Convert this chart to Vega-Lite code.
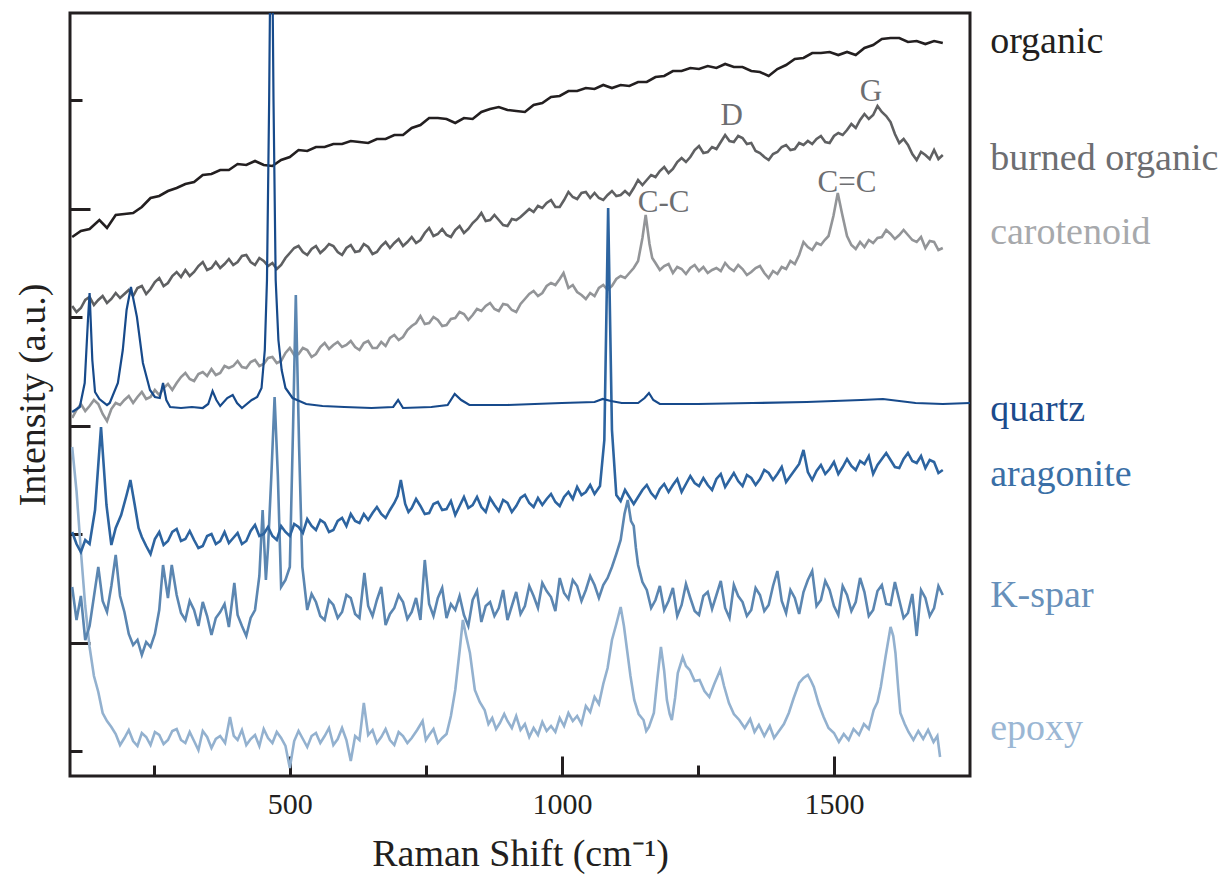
{
"$schema": "https://vega.github.io/schema/vega-lite/v6.json",
"width": 900, "height": 763,
"autosize": {"type": "none"},
"padding": {"left": 70, "top": 13, "right": 257, "bottom": 99},
"background": "white",
"config": {"view": {"stroke": "#231f20", "strokeWidth": 3}, "font": "Liberation Serif"},
"datasets": {
"organic": [{"x":100,"y":539},{"x":116,"y":545},{"x":132,"y":547},{"x":150,"y":556},{"x":164,"y":548},{"x":180,"y":561},{"x":196,"y":562},{"x":212,"y":563},{"x":228,"y":569},{"x":244,"y":578},{"x":260,"y":580},{"x":276,"y":585},{"x":292,"y":588},{"x":308,"y":592},{"x":324,"y":594},{"x":340,"y":601},{"x":356,"y":602},{"x":372,"y":606},{"x":388,"y":606},{"x":404,"y":612},{"x":420,"y":611},{"x":436,"y":615},{"x":452,"y":611},{"x":468,"y":610},{"x":484,"y":616},{"x":500,"y":619},{"x":516,"y":626},{"x":532,"y":625},{"x":548,"y":629},{"x":564,"y":629},{"x":580,"y":632},{"x":596,"y":632},{"x":612,"y":635},{"x":628,"y":634},{"x":644,"y":633},{"x":660,"y":637},{"x":676,"y":637},{"x":692,"y":641},{"x":708,"y":641},{"x":724,"y":648},{"x":740,"y":651},{"x":756,"y":658},{"x":772,"y":658},{"x":788,"y":657},{"x":804,"y":653},{"x":820,"y":658},{"x":836,"y":657},{"x":852,"y":664},{"x":868,"y":667},{"x":884,"y":669},{"x":900,"y":666},{"x":916,"y":665},{"x":932,"y":664},{"x":948,"y":671},{"x":964,"y":673},{"x":980,"y":679},{"x":996,"y":680},{"x":1012,"y":685},{"x":1028,"y":685},{"x":1044,"y":688},{"x":1060,"y":687},{"x":1076,"y":691},{"x":1092,"y":688},{"x":1108,"y":691},{"x":1124,"y":690},{"x":1140,"y":694},{"x":1156,"y":694},{"x":1172,"y":699},{"x":1188,"y":700},{"x":1204,"y":705},{"x":1220,"y":705},{"x":1236,"y":708},{"x":1252,"y":707},{"x":1268,"y":710},{"x":1284,"y":708},{"x":1300,"y":712},{"x":1316,"y":709},{"x":1332,"y":709},{"x":1348,"y":705},{"x":1364,"y":704},{"x":1380,"y":700},{"x":1396,"y":707},{"x":1412,"y":711},{"x":1428,"y":717},{"x":1444,"y":718},{"x":1460,"y":723},{"x":1476,"y":723},{"x":1492,"y":724},{"x":1508,"y":721},{"x":1524,"y":724},{"x":1540,"y":721},{"x":1556,"y":728},{"x":1572,"y":731},{"x":1588,"y":737},{"x":1604,"y":738},{"x":1620,"y":738},{"x":1636,"y":734},{"x":1652,"y":735},{"x":1668,"y":732},{"x":1684,"y":735},{"x":1700,"y":733}],
"burned": [{"x":100,"y":470},{"x":108,"y":464},{"x":116,"y":468},{"x":124,"y":476},{"x":132,"y":479},{"x":140,"y":471},{"x":148,"y":476},{"x":156,"y":480},{"x":164,"y":473},{"x":172,"y":477},{"x":180,"y":483},{"x":188,"y":478},{"x":196,"y":482},{"x":204,"y":486},{"x":212,"y":480},{"x":220,"y":488},{"x":228,"y":490},{"x":236,"y":482},{"x":244,"y":487},{"x":252,"y":494},{"x":260,"y":498},{"x":268,"y":490},{"x":276,"y":493},{"x":284,"y":500},{"x":292,"y":504},{"x":300,"y":499},{"x":308,"y":506},{"x":316,"y":500},{"x":324,"y":504},{"x":332,"y":510},{"x":340,"y":514},{"x":348,"y":506},{"x":356,"y":508},{"x":364,"y":514},{"x":372,"y":508},{"x":380,"y":512},{"x":388,"y":517},{"x":396,"y":511},{"x":404,"y":514},{"x":412,"y":520},{"x":420,"y":521},{"x":428,"y":514},{"x":436,"y":511},{"x":444,"y":518},{"x":452,"y":515},{"x":460,"y":510},{"x":468,"y":513},{"x":476,"y":507},{"x":484,"y":511},{"x":492,"y":518},{"x":500,"y":523},{"x":508,"y":528},{"x":516,"y":530},{"x":524,"y":524},{"x":532,"y":521},{"x":540,"y":527},{"x":548,"y":530},{"x":556,"y":523},{"x":564,"y":527},{"x":572,"y":532},{"x":580,"y":530},{"x":588,"y":524},{"x":596,"y":521},{"x":604,"y":528},{"x":612,"y":531},{"x":620,"y":524},{"x":628,"y":525},{"x":636,"y":532},{"x":644,"y":529},{"x":652,"y":522},{"x":660,"y":524},{"x":668,"y":530},{"x":676,"y":534},{"x":684,"y":528},{"x":692,"y":533},{"x":700,"y":537},{"x":708,"y":530},{"x":716,"y":534},{"x":724,"y":539},{"x":732,"y":533},{"x":740,"y":536},{"x":748,"y":543},{"x":756,"y":548},{"x":764,"y":540},{"x":772,"y":542},{"x":780,"y":547},{"x":788,"y":541},{"x":796,"y":539},{"x":804,"y":546},{"x":812,"y":550},{"x":820,"y":543},{"x":828,"y":547},{"x":836,"y":553},{"x":844,"y":557},{"x":852,"y":563},{"x":860,"y":555},{"x":868,"y":556},{"x":876,"y":561},{"x":884,"y":556},{"x":892,"y":551},{"x":900,"y":550},{"x":908,"y":557},{"x":916,"y":556},{"x":924,"y":559},{"x":932,"y":563},{"x":940,"y":567},{"x":948,"y":564},{"x":956,"y":570},{"x":964,"y":568},{"x":972,"y":573},{"x":980,"y":576},{"x":988,"y":569},{"x":996,"y":569},{"x":1004,"y":576},{"x":1012,"y":584},{"x":1020,"y":579},{"x":1028,"y":577},{"x":1036,"y":583},{"x":1044,"y":584},{"x":1052,"y":578},{"x":1060,"y":583},{"x":1068,"y":578},{"x":1076,"y":576},{"x":1084,"y":581},{"x":1092,"y":585},{"x":1100,"y":580},{"x":1108,"y":581},{"x":1116,"y":585},{"x":1124,"y":581},{"x":1132,"y":588},{"x":1140,"y":596},{"x":1148,"y":591},{"x":1156,"y":596},{"x":1164,"y":601},{"x":1172,"y":599},{"x":1180,"y":605},{"x":1188,"y":609},{"x":1196,"y":603},{"x":1204,"y":607},{"x":1212,"y":614},{"x":1220,"y":618},{"x":1228,"y":614},{"x":1236,"y":619},{"x":1244,"y":626},{"x":1252,"y":630},{"x":1260,"y":623},{"x":1268,"y":624},{"x":1276,"y":629},{"x":1284,"y":627},{"x":1292,"y":634},{"x":1300,"y":641},{"x":1308,"y":635},{"x":1316,"y":634},{"x":1324,"y":640},{"x":1332,"y":638},{"x":1340,"y":632},{"x":1348,"y":633},{"x":1356,"y":625},{"x":1364,"y":623},{"x":1372,"y":619},{"x":1380,"y":616},{"x":1388,"y":622},{"x":1396,"y":624},{"x":1404,"y":629},{"x":1412,"y":631},{"x":1420,"y":626},{"x":1428,"y":627},{"x":1436,"y":633},{"x":1444,"y":631},{"x":1452,"y":635},{"x":1460,"y":632},{"x":1468,"y":637},{"x":1476,"y":640},{"x":1484,"y":634},{"x":1492,"y":633},{"x":1500,"y":640},{"x":1508,"y":643},{"x":1516,"y":641},{"x":1524,"y":646},{"x":1532,"y":652},{"x":1540,"y":648},{"x":1548,"y":656},{"x":1556,"y":662},{"x":1564,"y":657},{"x":1572,"y":661},{"x":1580,"y":670},{"x":1588,"y":664},{"x":1596,"y":660},{"x":1604,"y":654},{"x":1612,"y":642},{"x":1620,"y":633},{"x":1628,"y":637},{"x":1636,"y":631},{"x":1644,"y":622},{"x":1652,"y":616},{"x":1660,"y":624},{"x":1668,"y":621},{"x":1676,"y":617},{"x":1684,"y":626},{"x":1692,"y":617},{"x":1700,"y":621}],
"carotenoid": [{"x":100,"y":358},{"x":108,"y":366},{"x":116,"y":372},{"x":124,"y":365},{"x":132,"y":370},{"x":140,"y":376},{"x":148,"y":372},{"x":156,"y":362},{"x":164,"y":355},{"x":172,"y":367},{"x":180,"y":373},{"x":188,"y":371},{"x":196,"y":376},{"x":204,"y":380},{"x":212,"y":373},{"x":220,"y":379},{"x":228,"y":384},{"x":236,"y":377},{"x":244,"y":379},{"x":252,"y":386},{"x":260,"y":381},{"x":268,"y":388},{"x":276,"y":392},{"x":284,"y":386},{"x":292,"y":393},{"x":300,"y":399},{"x":308,"y":403},{"x":316,"y":397},{"x":324,"y":395},{"x":332,"y":402},{"x":340,"y":404},{"x":348,"y":400},{"x":356,"y":407},{"x":364,"y":401},{"x":372,"y":403},{"x":380,"y":410},{"x":388,"y":408},{"x":396,"y":410},{"x":404,"y":415},{"x":412,"y":409},{"x":420,"y":408},{"x":428,"y":414},{"x":436,"y":416},{"x":444,"y":410},{"x":452,"y":412},{"x":460,"y":418},{"x":468,"y":419},{"x":476,"y":413},{"x":484,"y":415},{"x":492,"y":423},{"x":500,"y":428},{"x":508,"y":421},{"x":516,"y":422},{"x":524,"y":428},{"x":532,"y":426},{"x":540,"y":419},{"x":548,"y":422},{"x":556,"y":429},{"x":564,"y":433},{"x":572,"y":427},{"x":580,"y":431},{"x":588,"y":434},{"x":596,"y":429},{"x":604,"y":431},{"x":612,"y":435},{"x":620,"y":429},{"x":628,"y":426},{"x":636,"y":433},{"x":644,"y":435},{"x":652,"y":428},{"x":660,"y":428},{"x":668,"y":434},{"x":676,"y":430},{"x":684,"y":438},{"x":692,"y":441},{"x":700,"y":436},{"x":708,"y":439},{"x":716,"y":446},{"x":724,"y":450},{"x":732,"y":453},{"x":740,"y":460},{"x":748,"y":452},{"x":756,"y":453},{"x":764,"y":459},{"x":772,"y":456},{"x":780,"y":450},{"x":788,"y":451},{"x":796,"y":457},{"x":804,"y":458},{"x":812,"y":464},{"x":820,"y":462},{"x":828,"y":456},{"x":836,"y":461},{"x":844,"y":467},{"x":852,"y":465},{"x":860,"y":470},{"x":868,"y":473},{"x":876,"y":467},{"x":884,"y":465},{"x":892,"y":472},{"x":900,"y":471},{"x":908,"y":466},{"x":916,"y":464},{"x":924,"y":472},{"x":932,"y":477},{"x":940,"y":482},{"x":948,"y":485},{"x":956,"y":480},{"x":964,"y":483},{"x":972,"y":490},{"x":980,"y":493},{"x":988,"y":491},{"x":996,"y":497},{"x":1003,"y":503},{"x":1012,"y":488},{"x":1020,"y":491},{"x":1028,"y":484},{"x":1036,"y":481},{"x":1044,"y":477},{"x":1052,"y":483},{"x":1060,"y":480},{"x":1068,"y":488},{"x":1076,"y":491},{"x":1084,"y":486},{"x":1092,"y":490},{"x":1100,"y":497},{"x":1108,"y":500},{"x":1116,"y":498},{"x":1124,"y":503},{"x":1132,"y":508},{"x":1140,"y":515},{"x":1148,"y":538},{"x":1154,"y":561},{"x":1161,"y":532},{"x":1166,"y":518},{"x":1172,"y":513},{"x":1180,"y":506},{"x":1188,"y":510},{"x":1196,"y":512},{"x":1204,"y":503},{"x":1212,"y":509},{"x":1220,"y":507},{"x":1228,"y":502},{"x":1236,"y":508},{"x":1244,"y":511},{"x":1252,"y":505},{"x":1260,"y":509},{"x":1268,"y":503},{"x":1276,"y":506},{"x":1284,"y":508},{"x":1292,"y":505},{"x":1300,"y":513},{"x":1308,"y":508},{"x":1316,"y":505},{"x":1324,"y":511},{"x":1332,"y":507},{"x":1340,"y":501},{"x":1348,"y":504},{"x":1356,"y":508},{"x":1364,"y":510},{"x":1372,"y":503},{"x":1380,"y":498},{"x":1388,"y":505},{"x":1396,"y":502},{"x":1404,"y":509},{"x":1412,"y":507},{"x":1420,"y":515},{"x":1428,"y":512},{"x":1436,"y":521},{"x":1444,"y":534},{"x":1452,"y":529},{"x":1460,"y":526},{"x":1468,"y":533},{"x":1476,"y":531},{"x":1483,"y":536},{"x":1490,"y":540},{"x":1499,"y":560},{"x":1507,"y":583},{"x":1515,"y":562},{"x":1524,"y":540},{"x":1532,"y":531},{"x":1540,"y":527},{"x":1548,"y":534},{"x":1556,"y":529},{"x":1564,"y":536},{"x":1572,"y":533},{"x":1580,"y":538},{"x":1588,"y":539},{"x":1596,"y":546},{"x":1604,"y":542},{"x":1612,"y":537},{"x":1620,"y":541},{"x":1628,"y":546},{"x":1636,"y":541},{"x":1644,"y":536},{"x":1652,"y":534},{"x":1660,"y":539},{"x":1668,"y":528},{"x":1676,"y":535},{"x":1684,"y":534},{"x":1692,"y":526},{"x":1700,"y":528}],
"quartz": [{"x":100,"y":364},{"x":114,"y":369},{"x":123,"y":393},{"x":129,"y":456},{"x":132,"y":483},{"x":137,"y":416},{"x":142,"y":384},{"x":150,"y":377},{"x":164,"y":371},{"x":169,"y":373},{"x":184,"y":393},{"x":193,"y":426},{"x":200,"y":466},{"x":208,"y":489},{"x":219,"y":459},{"x":230,"y":413},{"x":243,"y":386},{"x":252,"y":379},{"x":261,"y":378},{"x":267,"y":393},{"x":273,"y":376},{"x":280,"y":369},{"x":300,"y":368},{"x":320,"y":369},{"x":340,"y":368},{"x":350,"y":372},{"x":358,"y":385},{"x":365,"y":376},{"x":372,"y":370},{"x":385,"y":378},{"x":395,"y":381},{"x":403,"y":373},{"x":412,"y":368},{"x":430,"y":376},{"x":440,"y":379},{"x":448,"y":388},{"x":454,"y":426},{"x":458,"y":496},{"x":462,"y":676},{"x":466,"y":926},{"x":470,"y":676},{"x":474,"y":496},{"x":479,"y":436},{"x":485,"y":406},{"x":492,"y":388},{"x":505,"y":378},{"x":530,"y":372},{"x":560,"y":370},{"x":600,"y":369},{"x":650,"y":368},{"x":690,"y":369},{"x":699,"y":376},{"x":708,"y":368},{"x":760,"y":369},{"x":790,"y":371},{"x":803,"y":382},{"x":815,"y":376},{"x":830,"y":371},{"x":900,"y":371},{"x":950,"y":372},{"x":1000,"y":373},{"x":1060,"y":374},{"x":1075,"y":377},{"x":1090,"y":375},{"x":1110,"y":373},{"x":1140,"y":373},{"x":1152,"y":378},{"x":1160,"y":383},{"x":1168,"y":376},{"x":1180,"y":372},{"x":1250,"y":372},{"x":1350,"y":373},{"x":1450,"y":374},{"x":1550,"y":376},{"x":1590,"y":377},{"x":1620,"y":375},{"x":1650,"y":373},{"x":1700,"y":372},{"x":1750,"y":373}],
"aragonite": [{"x":100,"y":244},{"x":108,"y":232},{"x":116,"y":224},{"x":124,"y":236},{"x":132,"y":232},{"x":142,"y":266},{"x":153,"y":349},{"x":163,"y":271},{"x":172,"y":231},{"x":180,"y":248},{"x":190,"y":261},{"x":200,"y":281},{"x":207,"y":296},{"x":215,"y":271},{"x":222,"y":248},{"x":228,"y":239},{"x":236,"y":230},{"x":244,"y":222},{"x":252,"y":237},{"x":260,"y":244},{"x":268,"y":231},{"x":276,"y":235},{"x":284,"y":244},{"x":292,"y":247},{"x":300,"y":235},{"x":308,"y":237},{"x":316,"y":245},{"x":324,"y":236},{"x":332,"y":228},{"x":340,"y":230},{"x":348,"y":240},{"x":356,"y":242},{"x":364,"y":232},{"x":372,"y":235},{"x":380,"y":244},{"x":388,"y":233},{"x":396,"y":238},{"x":404,"y":243},{"x":412,"y":232},{"x":420,"y":235},{"x":428,"y":245},{"x":436,"y":251},{"x":444,"y":240},{"x":452,"y":242},{"x":460,"y":249},{"x":468,"y":240},{"x":476,"y":236},{"x":484,"y":250},{"x":492,"y":244},{"x":500,"y":240},{"x":508,"y":252},{"x":516,"y":249},{"x":524,"y":243},{"x":532,"y":257},{"x":540,"y":250},{"x":548,"y":246},{"x":556,"y":256},{"x":564,"y":253},{"x":572,"y":244},{"x":580,"y":246},{"x":588,"y":255},{"x":596,"y":258},{"x":604,"y":250},{"x":612,"y":262},{"x":620,"y":255},{"x":628,"y":253},{"x":636,"y":262},{"x":644,"y":256},{"x":652,"y":263},{"x":660,"y":269},{"x":668,"y":262},{"x":676,"y":258},{"x":684,"y":266},{"x":692,"y":273},{"x":698,"y":280},{"x":704,"y":296},{"x":712,"y":272},{"x":718,"y":264},{"x":724,"y":268},{"x":732,"y":277},{"x":740,"y":270},{"x":748,"y":262},{"x":756,"y":263},{"x":764,"y":272},{"x":772,"y":274},{"x":780,"y":266},{"x":788,"y":267},{"x":796,"y":275},{"x":804,"y":261},{"x":812,"y":270},{"x":820,"y":279},{"x":828,"y":268},{"x":836,"y":271},{"x":844,"y":279},{"x":852,"y":269},{"x":860,"y":264},{"x":868,"y":278},{"x":876,"y":271},{"x":884,"y":265},{"x":892,"y":276},{"x":900,"y":273},{"x":908,"y":264},{"x":916,"y":270},{"x":924,"y":278},{"x":932,"y":281},{"x":940,"y":273},{"x":948,"y":269},{"x":956,"y":278},{"x":964,"y":271},{"x":972,"y":277},{"x":980,"y":282},{"x":988,"y":274},{"x":996,"y":270},{"x":1004,"y":279},{"x":1012,"y":284},{"x":1020,"y":277},{"x":1028,"y":289},{"x":1036,"y":281},{"x":1044,"y":284},{"x":1052,"y":291},{"x":1060,"y":282},{"x":1070,"y":290},{"x":1078,"y":336},{"x":1085,"y":568},{"x":1092,"y":346},{"x":1100,"y":281},{"x":1108,"y":275},{"x":1116,"y":286},{"x":1124,"y":279},{"x":1132,"y":272},{"x":1140,"y":279},{"x":1148,"y":286},{"x":1156,"y":291},{"x":1164,"y":283},{"x":1172,"y":278},{"x":1180,"y":287},{"x":1188,"y":292},{"x":1196,"y":284},{"x":1204,"y":291},{"x":1212,"y":297},{"x":1220,"y":284},{"x":1228,"y":292},{"x":1236,"y":300},{"x":1244,"y":293},{"x":1252,"y":290},{"x":1260,"y":298},{"x":1268,"y":291},{"x":1276,"y":286},{"x":1284,"y":297},{"x":1292,"y":302},{"x":1300,"y":289},{"x":1308,"y":296},{"x":1316,"y":303},{"x":1324,"y":295},{"x":1332,"y":290},{"x":1340,"y":301},{"x":1348,"y":298},{"x":1356,"y":291},{"x":1364,"y":297},{"x":1372,"y":306},{"x":1380,"y":303},{"x":1388,"y":296},{"x":1396,"y":302},{"x":1404,"y":309},{"x":1412,"y":294},{"x":1420,"y":300},{"x":1428,"y":306},{"x":1436,"y":312},{"x":1444,"y":326},{"x":1452,"y":304},{"x":1460,"y":296},{"x":1468,"y":305},{"x":1476,"y":311},{"x":1484,"y":302},{"x":1492,"y":307},{"x":1500,"y":314},{"x":1508,"y":302},{"x":1516,"y":309},{"x":1524,"y":317},{"x":1532,"y":310},{"x":1540,"y":306},{"x":1548,"y":315},{"x":1556,"y":312},{"x":1564,"y":320},{"x":1572,"y":302},{"x":1580,"y":311},{"x":1588,"y":317},{"x":1596,"y":323},{"x":1604,"y":316},{"x":1612,"y":309},{"x":1620,"y":308},{"x":1628,"y":317},{"x":1636,"y":323},{"x":1644,"y":315},{"x":1652,"y":313},{"x":1660,"y":320},{"x":1668,"y":308},{"x":1676,"y":316},{"x":1684,"y":314},{"x":1692,"y":303},{"x":1700,"y":306}],
"kspar": [{"x":100,"y":189},{"x":108,"y":156},{"x":116,"y":180},{"x":124,"y":136},{"x":132,"y":150},{"x":148,"y":209},{"x":156,"y":175},{"x":164,"y":164},{"x":172,"y":190},{"x":180,"y":221},{"x":188,"y":180},{"x":196,"y":164},{"x":204,"y":142},{"x":212,"y":131},{"x":220,"y":136},{"x":228,"y":121},{"x":236,"y":134},{"x":244,"y":129},{"x":252,"y":142},{"x":260,"y":166},{"x":267,"y":211},{"x":276,"y":178},{"x":283,"y":211},{"x":292,"y":181},{"x":300,"y":163},{"x":308,"y":156},{"x":316,"y":175},{"x":324,"y":166},{"x":332,"y":150},{"x":340,"y":174},{"x":348,"y":160},{"x":356,"y":141},{"x":364,"y":158},{"x":372,"y":164},{"x":380,"y":172},{"x":388,"y":149},{"x":398,"y":193},{"x":404,"y":161},{"x":412,"y":150},{"x":420,"y":140},{"x":428,"y":158},{"x":436,"y":166},{"x":444,"y":200},{"x":450,"y":266},{"x":456,"y":196},{"x":460,"y":229},{"x":466,"y":300},{"x":472,"y":379},{"x":478,"y":300},{"x":484,"y":189},{"x":492,"y":196},{"x":500,"y":209},{"x":506,"y":350},{"x":511,"y":481},{"x":517,"y":330},{"x":523,"y":209},{"x":532,"y":166},{"x":540,"y":182},{"x":548,"y":174},{"x":556,"y":160},{"x":564,"y":156},{"x":572,"y":176},{"x":580,"y":171},{"x":588,"y":158},{"x":596,"y":164},{"x":604,"y":181},{"x":612,"y":178},{"x":620,"y":162},{"x":628,"y":158},{"x":637,"y":203},{"x":644,"y":170},{"x":652,"y":160},{"x":660,"y":176},{"x":668,"y":189},{"x":676,"y":151},{"x":684,"y":162},{"x":692,"y":168},{"x":700,"y":181},{"x":708,"y":174},{"x":716,"y":157},{"x":724,"y":164},{"x":732,"y":178},{"x":740,"y":156},{"x":748,"y":216},{"x":756,"y":172},{"x":764,"y":160},{"x":772,"y":178},{"x":780,"y":188},{"x":788,"y":158},{"x":796,"y":172},{"x":804,"y":166},{"x":812,"y":180},{"x":820,"y":161},{"x":828,"y":150},{"x":836,"y":176},{"x":844,"y":185},{"x":852,"y":154},{"x":860,"y":170},{"x":868,"y":174},{"x":876,"y":160},{"x":884,"y":168},{"x":892,"y":186},{"x":900,"y":156},{"x":908,"y":170},{"x":916,"y":184},{"x":924,"y":162},{"x":932,"y":170},{"x":940,"y":190},{"x":948,"y":180},{"x":956,"y":168},{"x":964,"y":193},{"x":972,"y":185},{"x":980,"y":179},{"x":988,"y":165},{"x":996,"y":198},{"x":1004,"y":183},{"x":1012,"y":177},{"x":1020,"y":196},{"x":1028,"y":190},{"x":1036,"y":175},{"x":1044,"y":186},{"x":1052,"y":200},{"x":1060,"y":191},{"x":1068,"y":178},{"x":1076,"y":191},{"x":1084,"y":198},{"x":1092,"y":209},{"x":1100,"y":222},{"x":1108,"y":236},{"x":1115,"y":262},{"x":1121,"y":276},{"x":1127,"y":255},{"x":1132,"y":250},{"x":1136,"y":228},{"x":1140,"y":211},{"x":1148,"y":194},{"x":1156,"y":186},{"x":1164,"y":168},{"x":1172,"y":176},{"x":1180,"y":190},{"x":1188,"y":166},{"x":1196,"y":175},{"x":1204,"y":188},{"x":1212,"y":160},{"x":1220,"y":171},{"x":1228,"y":192},{"x":1236,"y":178},{"x":1244,"y":165},{"x":1252,"y":161},{"x":1260,"y":180},{"x":1268,"y":184},{"x":1276,"y":167},{"x":1284,"y":181},{"x":1292,"y":195},{"x":1300,"y":168},{"x":1308,"y":158},{"x":1316,"y":191},{"x":1324,"y":180},{"x":1332,"y":174},{"x":1340,"y":160},{"x":1348,"y":166},{"x":1356,"y":188},{"x":1364,"y":181},{"x":1372,"y":165},{"x":1380,"y":171},{"x":1388,"y":190},{"x":1396,"y":205},{"x":1404,"y":175},{"x":1412,"y":163},{"x":1420,"y":186},{"x":1428,"y":178},{"x":1436,"y":162},{"x":1444,"y":184},{"x":1452,"y":196},{"x":1460,"y":205},{"x":1468,"y":170},{"x":1476,"y":176},{"x":1484,"y":195},{"x":1492,"y":186},{"x":1500,"y":170},{"x":1508,"y":161},{"x":1516,"y":190},{"x":1524,"y":181},{"x":1532,"y":165},{"x":1540,"y":174},{"x":1548,"y":198},{"x":1556,"y":184},{"x":1564,"y":160},{"x":1572,"y":166},{"x":1580,"y":185},{"x":1588,"y":191},{"x":1596,"y":172},{"x":1604,"y":171},{"x":1612,"y":194},{"x":1620,"y":176},{"x":1628,"y":158},{"x":1636,"y":163},{"x":1644,"y":182},{"x":1652,"y":140},{"x":1660,"y":186},{"x":1668,"y":178},{"x":1676,"y":160},{"x":1684,"y":168},{"x":1692,"y":190},{"x":1700,"y":181}],
"epoxy": [{"x":100,"y":329},{"x":108,"y":285},{"x":116,"y":225},{"x":124,"y":170},{"x":132,"y":129},{"x":140,"y":100},{"x":148,"y":84},{"x":156,"y":63},{"x":164,"y":55},{"x":172,"y":49},{"x":180,"y":42},{"x":188,"y":31},{"x":196,"y":38},{"x":204,"y":46},{"x":212,"y":35},{"x":220,"y":30},{"x":228,"y":43},{"x":236,"y":39},{"x":244,"y":31},{"x":252,"y":44},{"x":260,"y":41},{"x":268,"y":32},{"x":276,"y":36},{"x":284,"y":45},{"x":292,"y":47},{"x":300,"y":36},{"x":308,"y":33},{"x":316,"y":44},{"x":324,"y":35},{"x":332,"y":26},{"x":340,"y":45},{"x":348,"y":39},{"x":356,"y":28},{"x":364,"y":37},{"x":372,"y":40},{"x":381,"y":33},{"x":390,"y":59},{"x":397,"y":40},{"x":404,"y":36},{"x":412,"y":46},{"x":420,"y":31},{"x":428,"y":37},{"x":436,"y":41},{"x":444,"y":30},{"x":452,"y":47},{"x":460,"y":38},{"x":468,"y":33},{"x":476,"y":44},{"x":484,"y":38},{"x":492,"y":30},{"x":500,"y":8},{"x":508,"y":35},{"x":516,"y":45},{"x":524,"y":37},{"x":532,"y":29},{"x":540,"y":40},{"x":548,"y":43},{"x":556,"y":33},{"x":564,"y":40},{"x":572,"y":48},{"x":580,"y":31},{"x":588,"y":37},{"x":596,"y":48},{"x":604,"y":36},{"x":612,"y":15},{"x":620,"y":40},{"x":628,"y":36},{"x":636,"y":73},{"x":644,"y":41},{"x":652,"y":46},{"x":660,"y":33},{"x":668,"y":39},{"x":676,"y":47},{"x":684,"y":36},{"x":692,"y":31},{"x":700,"y":44},{"x":708,"y":40},{"x":716,"y":33},{"x":724,"y":38},{"x":734,"y":46},{"x":744,"y":55},{"x":750,"y":36},{"x":756,"y":41},{"x":764,"y":47},{"x":772,"y":33},{"x":780,"y":38},{"x":788,"y":42},{"x":796,"y":60},{"x":804,"y":86},{"x":812,"y":125},{"x":818,"y":156},{"x":824,"y":140},{"x":831,"y":123},{"x":840,"y":86},{"x":849,"y":74},{"x":858,"y":66},{"x":865,"y":52},{"x":872,"y":58},{"x":879,"y":47},{"x":886,"y":53},{"x":894,"y":62},{"x":900,"y":55},{"x":908,"y":48},{"x":916,"y":60},{"x":924,"y":46},{"x":932,"y":52},{"x":940,"y":39},{"x":948,"y":48},{"x":956,"y":41},{"x":964,"y":54},{"x":972,"y":45},{"x":980,"y":50},{"x":988,"y":44},{"x":996,"y":58},{"x":1004,"y":50},{"x":1012,"y":63},{"x":1020,"y":55},{"x":1028,"y":60},{"x":1036,"y":52},{"x":1044,"y":70},{"x":1052,"y":64},{"x":1060,"y":79},{"x":1068,"y":72},{"x":1076,"y":92},{"x":1084,"y":108},{"x":1092,"y":136},{"x":1100,"y":152},{"x":1108,"y":169},{"x":1114,"y":150},{"x":1120,"y":125},{"x":1126,"y":100},{"x":1133,"y":76},{"x":1141,"y":62},{"x":1150,"y":56},{"x":1155,"y":45},{"x":1160,"y":49},{"x":1169,"y":63},{"x":1175,"y":95},{"x":1182,"y":129},{"x":1188,"y":105},{"x":1193,"y":76},{"x":1198,"y":62},{"x":1202,"y":56},{"x":1208,"y":78},{"x":1213,"y":103},{"x":1222,"y":119},{"x":1228,"y":110},{"x":1235,"y":106},{"x":1244,"y":95},{"x":1253,"y":96},{"x":1262,"y":85},{"x":1271,"y":79},{"x":1280,"y":92},{"x":1291,"y":106},{"x":1298,"y":90},{"x":1307,"y":73},{"x":1316,"y":62},{"x":1326,"y":56},{"x":1336,"y":48},{"x":1346,"y":57},{"x":1354,"y":44},{"x":1362,"y":51},{"x":1372,"y":40},{"x":1382,"y":50},{"x":1390,"y":38},{"x":1399,"y":45},{"x":1408,"y":52},{"x":1417,"y":63},{"x":1426,"y":78},{"x":1436,"y":93},{"x":1444,"y":98},{"x":1452,"y":101},{"x":1458,"y":95},{"x":1463,"y":89},{"x":1472,"y":72},{"x":1481,"y":59},{"x":1490,"y":48},{"x":1500,"y":43},{"x":1509,"y":34},{"x":1518,"y":42},{"x":1527,"y":36},{"x":1536,"y":47},{"x":1546,"y":41},{"x":1555,"y":52},{"x":1564,"y":47},{"x":1573,"y":66},{"x":1580,"y":74},{"x":1586,"y":89},{"x":1595,"y":120},{"x":1604,"y":149},{"x":1609,"y":140},{"x":1613,"y":123},{"x":1618,"y":88},{"x":1622,"y":63},{"x":1630,"y":52},{"x":1637,"y":44},{"x":1646,"y":36},{"x":1655,"y":45},{"x":1664,"y":37},{"x":1673,"y":46},{"x":1683,"y":34},{"x":1690,"y":40},{"x":1695,"y":19}],
"labels": [{"x":1787,"y":734,"t":"organic"},{"x":1787,"y":617,"t":"burned organic"},{"x":1787,"y":543,"t":"carotenoid"},{"x":1787,"y":366,"t":"quartz"},{"x":1787,"y":301,"t":"aragonite"},{"x":1787,"y":180,"t":"K-spar"},{"x":1787,"y":47,"t":"epoxy"}],
"notes": [{"x":1312,"y":651,"t":"D"},{"x":1568,"y":675,"t":"G"},{"x":1187,"y":564,"t":"C-C"},{"x":1524,"y":584,"t":"C=C"}]
},
"encoding": {
"x": {"field": "x", "type": "quantitative", "scale": {"domain": [96, 1750], "nice": false, "zero": false},
 "axis": {"title": "Raman Shift (cm⁻¹)", "values": [250,500,750,1000,1250,1500], "format": "d",
  "labelExpr": "datum.value % 500 === 0 ? datum.label : ''",
  "tickSize": {"condition": {"test": "datum.value % 500 === 0", "value": -20}, "value": -11},
  "tickWidth": 3, "tickColor": "#231f20", "domain": false, "grid": false,
  "labelPadding": 57, "labelBaseline": "alphabetic", "labelFontSize": 30, "labelColor": "#231f20", "labelFont": "Liberation Serif", "labelFlush": false, "labelOverlap": false,
  "titleFontSize": 38, "titleFontWeight": "normal", "titleColor": "#231f20", "titleFont": "Liberation Serif",
  "titleX": 450, "titleY": 89, "titleAlign": "center", "titleBaseline": "alphabetic"}},
"y": {"field": "y", "type": "quantitative", "scale": {"domain": [0, 763], "nice": false, "zero": false},
 "axis": {"title": "Intensity (a.u.)", "values": [25,133.5,242,350.5,459,567.5,676], "labels": false,
  "tickSize": {"condition": {"test": "(datum.value - 25) % 217 > 1", "value": -20}, "value": -12},
  "tickWidth": 3, "tickColor": "#231f20", "domain": false, "grid": false,
  "titleFontSize": 38, "titleFontWeight": "normal", "titleColor": "#231f20", "titleFont": "Liberation Serif",
  "titleX": -26, "titleY": 381.5, "titleAngle": -90, "titleAlign": "center", "titleBaseline": "alphabetic"}}
},
"layer": [
{"data": {"name": "organic"}, "mark": {"type": "line", "color": "#231f20", "strokeWidth": 2.6, "clip": true}, "encoding": {}},
{"data": {"name": "burned"}, "mark": {"type": "line", "color": "#5f6062", "strokeWidth": 2.6, "clip": true}, "encoding": {}},
{"data": {"name": "carotenoid"}, "mark": {"type": "line", "color": "#939598", "strokeWidth": 2.6, "clip": true}, "encoding": {}},
{"data": {"name": "epoxy"}, "mark": {"type": "line", "color": "#93b1cf", "strokeWidth": 2.6, "clip": true}, "encoding": {}},
{"data": {"name": "kspar"}, "mark": {"type": "line", "color": "#5b86b1", "strokeWidth": 2.6, "clip": true}, "encoding": {}},
{"data": {"name": "aragonite"}, "mark": {"type": "line", "color": "#2d64a0", "strokeWidth": 2.6, "clip": true}, "encoding": {}},
{"data": {"name": "quartz"}, "mark": {"type": "line", "color": "#174a8b", "strokeWidth": 2.2, "clip": true}, "encoding": {}},
{"data": {"name": "labels"}, "mark": {"type": "text", "align": "left", "baseline": "middle", "fontSize": 38, "font": "Liberation Serif"},
 "encoding": {"text": {"field": "t"}, "color": {"field": "t", "type": "nominal", "legend": null,
  "scale": {"domain": ["organic","burned organic","carotenoid","quartz","aragonite","K-spar","epoxy"], "range": ["#231f20","#6d6e71","#a7a9ac","#1c4b8c","#3a6fa6","#6790ba","#9bb7d4"]}}}},
{"data": {"name": "notes"}, "mark": {"type": "text", "align": "center", "baseline": "alphabetic", "fontSize": 31, "font": "Liberation Serif", "color": "#6d6e71"},
 "encoding": {"text": {"field": "t"}}}
]
}
